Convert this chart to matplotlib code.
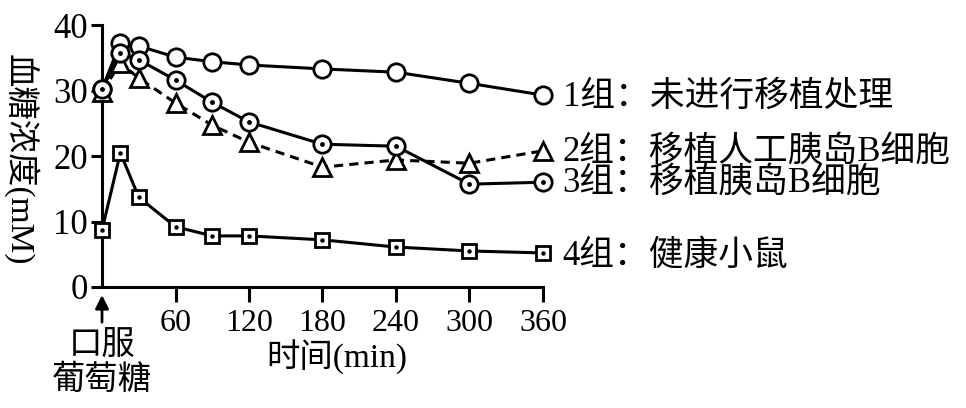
import matplotlib
matplotlib.use("Agg")
import matplotlib.pyplot as plt

# 字体：数字用衬线体，中文回退到 Noto Sans CJK SC
FONTS = ['Liberation Serif', 'Noto Sans CJK SC']
plt.rcParams['font.family'] = FONTS

# 数据
times = [0, 15, 30, 60, 90, 120, 180, 240, 300, 360]
group1 = [30.2, 37.3, 36.8, 35.1, 34.4, 33.9, 33.3, 32.8, 31.1, 29.3]
group2 = [29.8, 34.2, 31.9, 28.1, 24.7, 22.1, 18.3, 19.4, 18.9, 20.8]
group3 = [30.2, 35.7, 34.7, 31.6, 28.2, 25.2, 21.8, 21.5, 15.7, 16.0]
group4 = [8.7, 20.5, 13.7, 9.2, 7.8, 7.8, 7.2, 6.1, 5.5, 5.2]
labels = ["1组：未进行移植处理", "2组：移植人工胰岛B细胞",
          "3组：移植胰岛B细胞", "4组：健康小鼠"]
label_y = [29.0, 20.6, 15.9, 4.7]
xticks = [60, 120, 180, 240, 300, 360]
yticks = [0, 10, 20, 30, 40]

fig = plt.figure(figsize=(9.66, 4.08), dpi=100)
ax = fig.add_axes([0.1056, 0.2966, 0.4565, 0.642])

lw = 2.2
common = dict(color='black', lw=lw, mfc='white', mec='black', mew=2.0, clip_on=False)
ax.plot(times, group1, marker='o', ms=12.5, zorder=3, **common)
ax.plot(times, group2, marker='^', ms=12.5, ls=(0, (3, 2)), zorder=4, **common)
ax.plot(times, group3, marker='o', ms=12.5, zorder=5, **common)
ax.plot(times, group3, ls='none', marker='o', ms=2.5, color='black', zorder=6, clip_on=False)
ax.plot(times, group4, marker='s', ms=10.5, zorder=5, **common)
ax.plot(times, group4, ls='none', marker='o', ms=2.2, color='black', zorder=6, clip_on=False)

# 右侧标注
for lab, yy in zip(labels, label_y):
    ax.text(376, yy, lab, fontsize=25, va='center', ha='left', clip_on=False)

ax.set_xlim(0, 360)
ax.set_ylim(0, 40)
ax.spines['top'].set_visible(False)
ax.spines['right'].set_visible(False)
for s in ['left', 'bottom']:
    ax.spines[s].set_linewidth(2.2)
ax.set_xticks(xticks)
ax.set_yticks(yticks)
ax.tick_params(axis='x', direction='out', length=11, width=2.2, labelsize=23, pad=5)
ax.tick_params(axis='y', direction='out', length=8, width=2.2, labelsize=25, pad=2)

ax.text(192, -10.7, "时间(min)", fontsize=24, ha='center', va='center', clip_on=False)
ax.text(-0.186, 0.485, "血糖浓度(mM)", transform=ax.transAxes, rotation=270,
        fontsize=24, va='center', ha='center')

# 口服葡萄糖 箭头
ax.annotate("", xy=(0, -0.8), xytext=(0, -5.8), xycoords='data',
            arrowprops=dict(arrowstyle='-|>', color='black', lw=2, mutation_scale=20),
            annotation_clip=False)
ax.text(0, -8.9, "口服", fontsize=24, ha='center', va='center', clip_on=False)
ax.text(0, -14.3, "葡萄糖", fontsize=24, ha='center', va='center', clip_on=False)

fig.savefig("out.png", dpi=100)
